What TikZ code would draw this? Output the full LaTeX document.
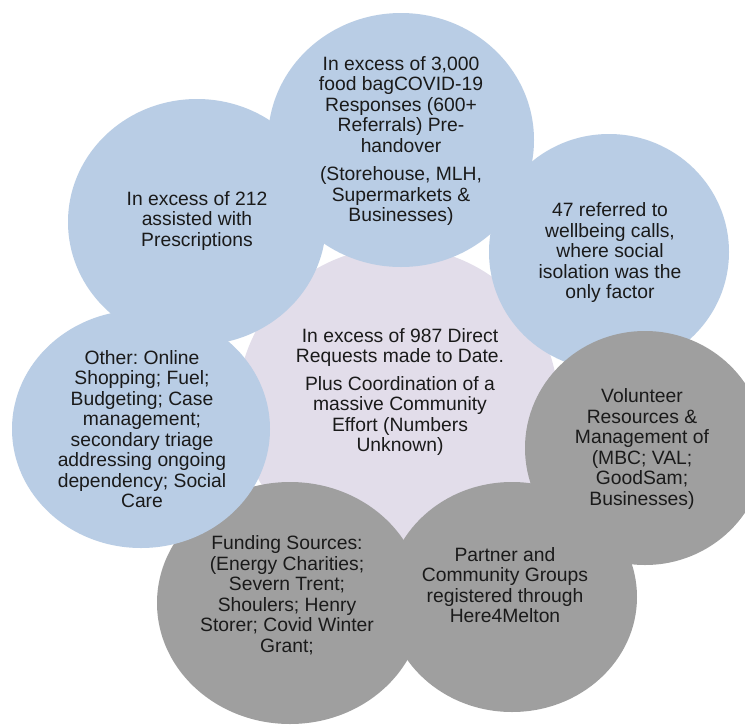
\documentclass[tikz,border=0pt]{standalone}
\usepackage{fontspec}
\setmainfont{Liberation Sans}
\usetikzlibrary{shapes.geometric}
\definecolor{bubbleblue}{HTML}{B9CDE5}
\definecolor{bubblegray}{HTML}{9F9F9F}
\definecolor{hublav}{HTML}{E2DDEA}
\definecolor{txt}{HTML}{1A1A1A}
\frenchspacing
\begin{document}
\begin{tikzpicture}[x=1pt,y=-1pt,
  bubble/.style={ellipse, inner sep=0pt, draw=none},
  blueb/.style={bubble, fill=bubbleblue},
  grayb/.style={bubble, fill=bubblegray},
  lbl/.style={align=center, text=txt, font=\frenchspacing\fontsize{19.3}{20.5}\selectfont, inner sep=0pt}]
\useasboundingbox (0,0) rectangle (745,726);
\clip (0,0) rectangle (745,726);
\fill[white] (0,0) rectangle (745,726);
% shapes
\node[bubble, fill=hublav, minimum width=320pt, minimum height=312pt] (hub) at (398,403) {};
\node[blueb, minimum width=266pt, minimum height=254pt] (top) at (401,140) {};
\node[blueb, minimum width=240pt, minimum height=236pt] (rblue) at (609,252) {};
\node[grayb, minimum width=240pt, minimum height=234pt] (rgray) at (645,448) {};
\node[grayb, minimum width=250pt, minimum height=230pt] (brgray) at (512,597) {};
\node[grayb, minimum width=266pt, minimum height=242pt] (blgray) at (290,603) {};
\node[blueb, minimum width=258pt, minimum height=238pt] (lblue) at (141,429) {};
\node[blueb, minimum width=258pt, minimum height=246pt] (tlblue) at (197,222) {};
% texts
\node[lbl] (ttop) at (401,141) {In excess of 3,000\\food bagCOVID-19\\Responses (600+\\Referrals) Pre-\\handover\\[8pt](Storehouse, MLH,\\Supermarkets \&\\Businesses)};
\node[lbl] (ttl) at (197,221) {In excess of 212\\assisted with\\Prescriptions};
\node[lbl] (trb) at (610,253) {47 referred to\\wellbeing calls,\\where social\\isolation was the\\only factor};
\node[lbl] (tlb) at (142,429) {Other: Online\\Shopping; Fuel;\\Budgeting; Case\\management;\\secondary triage\\addressing ongoing\\dependency; Social\\Care};
\node[lbl] (thub) at (400,392) {In excess of 987 Direct\\Requests made to Date.\\[7pt]Plus Coordination of a\\massive Community\\Effort (Numbers\\Unknown)};
\node[lbl] (trg) at (642,449) {Volunteer\\Resources \&\\Management of\\(MBC; VAL;\\GoodSam;\\Businesses)};
\node[lbl] (tbr) at (505,585) {Partner and\\Community Groups\\registered through\\Here4Melton};
\node[lbl] (tbl) at (287,595) {Funding Sources:\\(Energy Charities;\\Severn Trent;\\Shoulers; Henry\\Storer; Covid Winter\\Grant;};
\end{tikzpicture}
\end{document}
